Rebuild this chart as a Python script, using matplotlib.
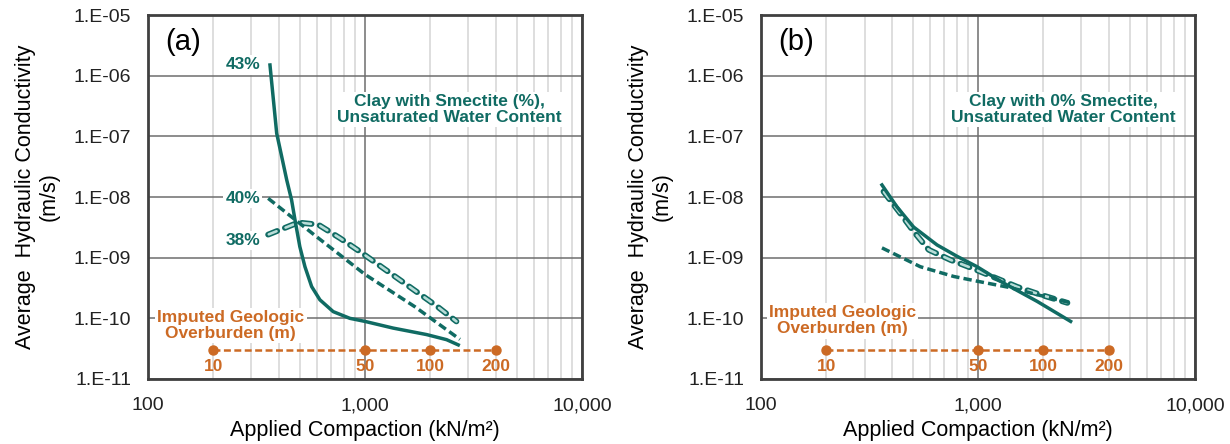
import math
import matplotlib.pyplot as plt
from matplotlib.ticker import FixedLocator, FuncFormatter, NullFormatter

plt.rcParams["font.family"] = ["Liberation Sans", "DejaVu Sans"]
plt.rcParams["lines.scale_dashes"] = False

TEAL = "#106b63"
LIGHT = "#b9ddd8"
ORANGE = "#cc6a24"

# panel (a): clay with smectite
a43_x = [365, 392, 436, 459, 476, 501, 529, 568, 620, 714, 852, 1000, 1350, 1923, 2378, 2692]
a43_y = [1.5e-6, 1.12e-7, 1.91e-8, 8.95e-9, 4.2e-9, 1.52e-9, 7.1e-10, 3.34e-10,
         2.02e-10, 1.29e-10, 1.0e-10, 8.9e-11, 6.9e-11, 5.4e-11, 4.45e-11, 3.65e-11]
a40_x = [358, 600, 1000, 1700, 2740]
a40_y = [9.5e-9, 2.2e-9, 5.3e-10, 1.55e-10, 4.5e-11]
a38_x = [358, 493, 610, 767, 948, 1423, 2138, 2640]
a38_y = [2.4e-9, 3.8e-9, 3.5e-9, 2.1e-9, 1.26e-9, 4.5e-10, 1.6e-10, 8.9e-11]

# panel (b): clay with 0% smectite
b_solid_x = [361, 423, 505, 648, 802, 990, 1315, 1875, 2673]
b_solid_y = [1.58e-8, 6.9e-9, 3.2e-9, 1.62e-9, 1.05e-9, 7.1e-10, 3.8e-10, 1.9e-10, 8.9e-11]
b_dash_x = [361, 542, 773, 990, 1413, 1875, 2673]
b_dash_y = [1.45e-9, 7.1e-10, 4.9e-10, 4.1e-10, 3.2e-10, 2.45e-10, 1.8e-10]
b_hollow_x = [367, 438, 505, 593, 746, 940, 1517, 1944, 2583]
b_hollow_y = [1.23e-8, 5.4e-9, 2.7e-9, 1.35e-9, 9.2e-10, 6.7e-10, 3.3e-10, 2.45e-10, 1.8e-10]

# imputed overburden (m) against equivalent compaction
ob_x = [200, 1000, 2000, 4000]
ob_y = 3e-11
ob_labels = ["10", "50", "100", "200"]

x_ticks = [100, 1000, 10000]
y_ticks = [1e-11, 1e-10, 1e-9, 1e-8, 1e-7, 1e-6, 1e-5]


def hollow(ax, x, y):
    # outlined dashes: dark wide dash with a light narrower dash on top
    ax.plot(x, y, color=TEAL, lw=4.2, linestyle=(0, (7, 6)),
            dash_capstyle="round", zorder=3)
    ax.plot(x, y, color=LIGHT, lw=1.9, linestyle=(12.5, (6, 7)),
            dash_capstyle="round", zorder=4)


def setup(ax, letter):
    ax.set_xscale("log")
    ax.set_yscale("log")
    ax.set_xlim(100, 10000)
    ax.set_ylim(1e-11, 1e-5)
    ax.xaxis.set_major_locator(FixedLocator(x_ticks))
    ax.xaxis.set_major_formatter(FuncFormatter(lambda v, p: f"{int(round(v)):,}"))
    ax.xaxis.set_minor_locator(FixedLocator([m * d for d in (100, 1000) for m in range(2, 10)]))
    ax.xaxis.set_minor_formatter(NullFormatter())
    ax.yaxis.set_major_locator(FixedLocator(y_ticks))
    ax.yaxis.set_major_formatter(FuncFormatter(lambda v, p: "1.E-%02d" % round(-math.log10(v))))
    ax.yaxis.set_minor_locator(FixedLocator([]))
    ax.grid(which="minor", axis="x", color="#d8d8d8", lw=1.2, zorder=0)
    ax.grid(which="major", axis="x", color="#6e6e6e", lw=1.1, zorder=0)
    ax.grid(which="major", axis="y", color="#6e6e6e", lw=1.1, zorder=0)
    ax.tick_params(which="both", length=0, labelsize=14, colors="#222222")
    ax.tick_params(axis="x", pad=13)
    ax.tick_params(axis="y", pad=12)
    for s in ax.spines.values():
        s.set_color("#404040")
        s.set_linewidth(2)
    ax.set_xlabel("Applied Compaction (kN/m²)", fontsize=15.5, labelpad=4)
    ax.set_ylabel("Average  Hydraulic Conductivity\n(m/s)", fontsize=15.5, labelpad=10)
    ax.text(0.04, 0.926, letter, transform=ax.transAxes, fontsize=21, va="center", ha="left")

    # overburden scale
    ax.plot(ob_x, [ob_y] * len(ob_x), color=ORANGE, lw=1.8, dashes=(5, 2.5),
            marker="o", ms=6.5, zorder=3)
    for xv, lab in zip(ob_x, ob_labels):
        ax.text(xv, 1.6e-11, lab, color=ORANGE, fontsize=12.5, fontweight="bold",
                ha="center", va="center")


fig = plt.figure(figsize=(12.3, 4.44), dpi=100)
ax1 = fig.add_axes([0.1203, 0.1464, 0.3528, 0.8198])
ax2 = fig.add_axes([0.6187, 0.1464, 0.3528, 0.8198])
setup(ax1, "(a)")
setup(ax2, "(b)")

box = dict(facecolor="white", edgecolor="none", pad=1.5)
lab_kw = dict(color=TEAL, fontsize=12.5, fontweight="bold", ha="center", va="center", bbox=box)
ob_kw = dict(color=ORANGE, fontsize=12.5, fontweight="bold", ha="center", va="center",
             linespacing=1.1, bbox=box)

# panel (a)
ax1.plot(a43_x, a43_y, color=TEAL, lw=2.5, zorder=5)
ax1.plot(a40_x, a40_y, color=TEAL, lw=2.5, dashes=(6, 3), zorder=5)
hollow(ax1, a38_x, a38_y)
ax1.text(274, 1.5e-6, "43%", **lab_kw)
ax1.text(274, 9.5e-9, "40%", **lab_kw)
ax1.text(274, 1.9e-9, "38%", **lab_kw)
ax1.text(2450, 2.8e-7, "Clay with Smectite (%),\nUnsaturated Water Content",
         linespacing=1.1, **lab_kw)
ax1.text(241, 7.6e-11, "Imputed Geologic\nOverburden (m)", **ob_kw)

# panel (b)
ax2.plot(b_solid_x, b_solid_y, color=TEAL, lw=2.5, zorder=5)
ax2.plot(b_dash_x, b_dash_y, color=TEAL, lw=2.5, dashes=(6, 3), zorder=5)
hollow(ax2, b_hollow_x, b_hollow_y)
ax2.text(2480, 2.8e-7, "Clay with 0% Smectite,\nUnsaturated Water Content",
         linespacing=1.1, **lab_kw)
ax2.text(237, 9.1e-11, "Imputed Geologic\nOverburden (m)", **ob_kw)

fig.savefig("out.png", dpi=100)
